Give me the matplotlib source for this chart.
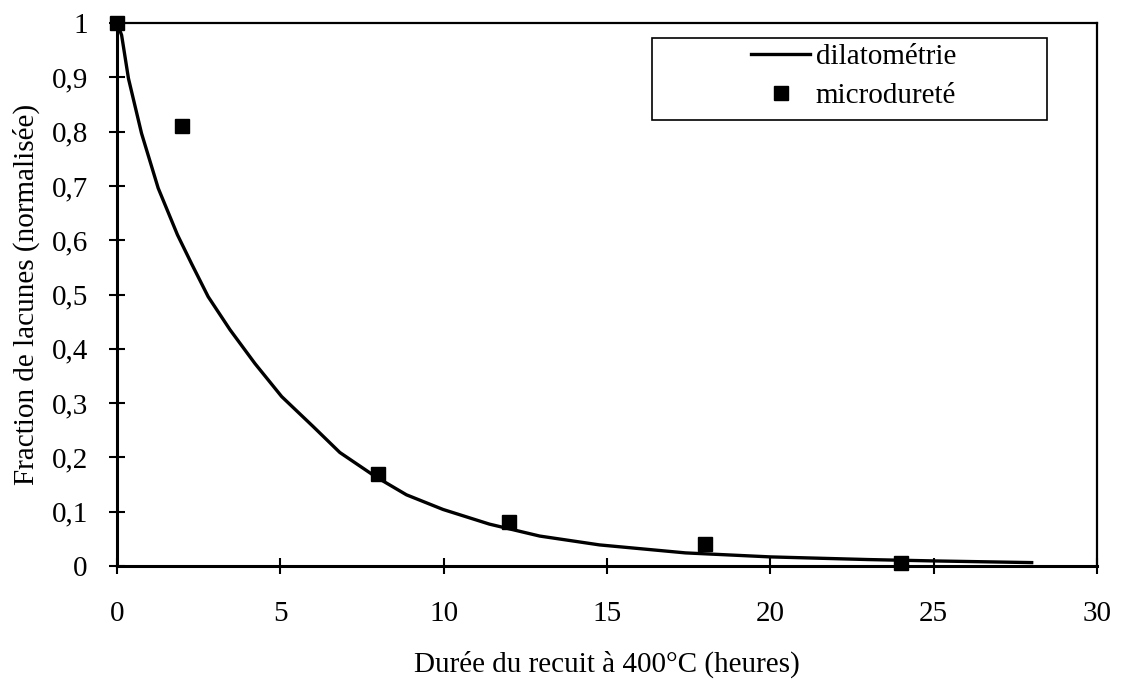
import numpy as np
import matplotlib
matplotlib.use('Agg')
import matplotlib.pyplot as plt
from matplotlib.ticker import FixedLocator, FixedFormatter
from matplotlib.patches import Rectangle

plt.rcParams['font.family'] = ['Liberation Serif', 'DejaVu Serif']

# dilatometry curve
t_dil = [0, 0.14, 0.35, 0.75, 1.26, 1.85, 2.28, 2.79, 3.46, 4.22, 5.04, 6.0,
         6.82, 7.9, 8.86, 9.98, 11.4, 12.94, 14.77, 17.4, 20.0, 23.0, 25.0, 28.0]
f_dil = [1.0, 0.978, 0.898, 0.797, 0.696, 0.61, 0.557, 0.496, 0.435, 0.373,
         0.312, 0.257, 0.209, 0.165, 0.131, 0.104, 0.077, 0.055, 0.0387,
         0.024, 0.0166, 0.0117, 0.0092, 0.0061]

# microhardness points
t_micro = [0, 2, 8, 12, 18, 24]
f_micro = [1.0, 0.81, 0.17, 0.08, 0.04, 0.005]

x_ticks = [0, 5, 10, 15, 20, 25, 30]
y_ticks = [0, 0.1, 0.2, 0.3, 0.4, 0.5, 0.6, 0.7, 0.8, 0.9, 1.0]
y_labels = ['0', '0,1', '0,2', '0,3', '0,4', '0,5', '0,6', '0,7', '0,8', '0,9', '1']

fig = plt.figure(figsize=(11.21, 6.81), dpi=100)
ax = fig.add_axes([0.1044, 0.169, 0.8742, 0.797])

ax.plot(t_dil, f_dil, color='black', linewidth=2.4, label='dilatométrie',
        solid_joinstyle='round')
ax.plot(t_micro, f_micro, linestyle='none', marker='s', markersize=10,
        color='black', label='microdureté', clip_on=False, zorder=5)

ax.set_xlim(0, 30)
ax.set_ylim(0, 1)
ax.xaxis.set_major_locator(FixedLocator(x_ticks))
ax.yaxis.set_major_locator(FixedLocator(y_ticks))
ax.yaxis.set_major_formatter(FixedFormatter(y_labels))

ax.tick_params(direction='inout', length=12, width=1.5, labelsize=21,
               colors='black')
ax.tick_params(axis='x', pad=19)
ax.tick_params(axis='y', pad=15)

for side in ['left', 'bottom']:
    ax.spines[side].set_linewidth(2.2)
for side in ['top', 'right']:
    ax.spines[side].set_linewidth(1.6)

ax.set_xlabel('Durée du recuit à 400°C (heures)', fontsize=21, labelpad=17)
ax.set_ylabel('Fraction de lacunes (normalisée)', fontsize=21, labelpad=8)

leg = ax.legend(loc='upper right', bbox_to_anchor=(0.856, 0.962), fontsize=21,
                frameon=False, handlelength=2.0, borderpad=0,
                labelspacing=0.42, borderaxespad=0, handletextpad=0.2)
ax.add_patch(Rectangle((0.546, 0.821), 0.403, 0.151, transform=ax.transAxes,
                       fill=False, edgecolor='black', linewidth=1.2,
                       clip_on=False))

fig.savefig('out.png', dpi=100)
